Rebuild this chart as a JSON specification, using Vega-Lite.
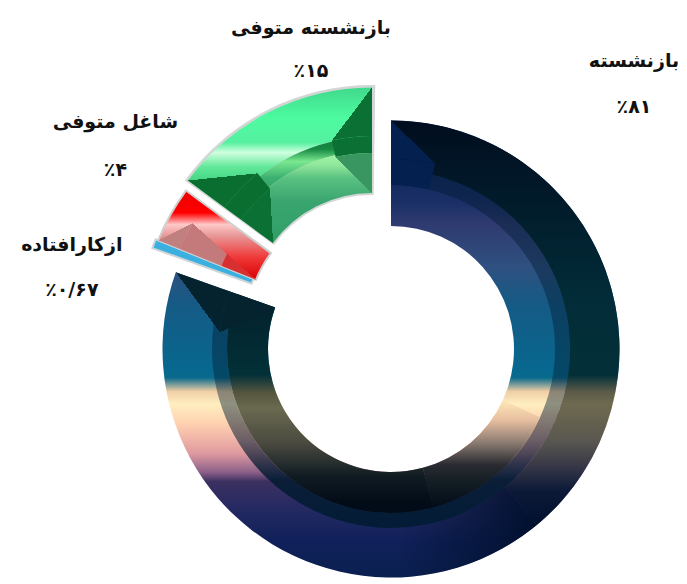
{"$schema":"https://vega.github.io/schema/vega-lite/v6.json","width":687,"height":584,"padding":0,"autosize":"none","background":"white","config":{"view":{"stroke":null},"axis":{"disable":true}},
"data":{"values":[{"order":1,"slice":"بازنشسته","pct":"٪۸۱","value":81},{"order":2,"slice":"ازکارافتاده","pct":"٪۰/۶۷","value":0.67},{"order":3,"slice":"شاغل متوفی","pct":"٪۴","value":4},{"order":4,"slice":"بازنشسته متوفی","pct":"٪۱۵","value":15}]},
"transform":[{"stack":"value","groupby":[],"sort":[{"field":"order","order":"ascending"}],"as":["start","end"]}],
"encoding":{"theta":{"field":"start","type":"quantitative","scale":{"domain":[0,100.67],"range":[0,6.28318]},"legend":null},"theta2":{"field":"end"}},
"layer":[
{"transform":[{"filter":"datum.order==1"}],"layer":[
{"mark":{"type":"arc","xOffset":47.5,"yOffset":57,"radius":228.5,"radius2":123,"fill":{"x1":0,"x2":0,"y1":0,"y2":1,"gradient":"linear","stops":[{"offset":0,"color":"#02204f"},{"offset":0.18,"color":"#1a2f66"},{"offset":0.225,"color":"#2f3a70"},{"offset":0.32,"color":"#2f5080"},{"offset":0.4,"color":"#155a85"},{"offset":0.55,"color":"#07688f"},{"offset":0.563,"color":"#0a6a8c"},{"offset":0.593,"color":"#f0cfa5"},{"offset":0.62,"color":"#ffeec0"},{"offset":0.664,"color":"#ffd0b0"},{"offset":0.728,"color":"#e09aa0"},{"offset":0.77,"color":"#8a5f88"},{"offset":0.79,"color":"#3c3060"},{"offset":0.846,"color":"#252a62"},{"offset":0.92,"color":"#10205a"},{"offset":1,"color":"#0a2050"}]}}},
{"encoding":{"theta2":{"field":"start"}},"mark":{"type":"arc","xOffset":47.5,"yOffset":57,"radius":228.5,"radius2":179,"theta2Offset":2.45,"fill":{"x1":0,"x2":0,"y1":0,"y2":1,"gradient":"linear","stops":[{"offset":0,"color":"#010d1f"},{"offset":0.44,"color":"#022c38"},{"offset":0.63,"color":"#033038"},{"offset":0.67,"color":"#5a5a48"},{"offset":0.7,"color":"#6e6a50"},{"offset":0.79,"color":"#5a5850"},{"offset":0.85,"color":"#3a3a48"},{"offset":0.915,"color":"#0c1a38"},{"offset":1,"color":"#00102e"}]}}},
{"encoding":{"theta2":{"field":"start"}},"mark":{"type":"arc","xOffset":47.5,"yOffset":57,"radius":228.5,"radius2":179,"thetaOffset":2.45,"theta2Offset":3.1,"fill":{"x1":1,"x2":0,"y1":0,"y2":0,"gradient":"linear","stops":[{"offset":0,"color":"rgba(0,16,46,1)"},{"offset":1,"color":"rgba(0,16,46,0)"}]}}},
{"mark":{"type":"arc","xOffset":47.5,"yOffset":57,"radius":179,"radius2":164,"fill":{"x1":0,"x2":0,"y1":0,"y2":1,"gradient":"linear","stops":[{"offset":0,"color":"rgba(0,26,48,0.42)"},{"offset":0.63,"color":"rgba(0,26,48,0.42)"},{"offset":0.755,"color":"rgba(0,26,48,0.55)"},{"offset":0.866,"color":"rgba(0,26,48,0.85)"},{"offset":1,"color":"rgba(0,26,48,0.85)"}]}}},
{"encoding":{"theta":{"field":"end","type":"quantitative"},"theta2":{"field":"end"}},"mark":{"type":"arc","xOffset":47.5,"yOffset":57,"radius":164,"radius2":123,"thetaOffset":-2.176,"fill":{"x1":0,"x2":0,"y1":0,"y2":1,"gradient":"linear","stops":[{"offset":0,"color":"#03202c"},{"offset":0.37,"color":"#033038"},{"offset":0.45,"color":"#55553f"},{"offset":0.52,"color":"#6a6a50"},{"offset":0.68,"color":"#4a4a40"},{"offset":0.83,"color":"#101c22"},{"offset":0.95,"color":"#020c18"},{"offset":1,"color":"#020c18"}]}}},
{"encoding":{"theta2":{"field":"start"}},"mark":{"type":"arc","xOffset":47.5,"yOffset":57,"radius":164,"radius2":123,"thetaOffset":2.0,"theta2Offset":2.88,"fill":{"x1":0,"x2":0,"y1":0,"y2":1,"gradient":"linear","stops":[{"offset":0,"color":"#ffe8b8"},{"offset":0.18,"color":"#e8c0a0"},{"offset":0.4,"color":"#8a7a70"},{"offset":0.6,"color":"#2a2c32"},{"offset":0.75,"color":"#141e24"},{"offset":1,"color":"#020c18"}]}}},
{"encoding":{"theta2":{"field":"start"}},"mark":{"type":"arc","xOffset":47.5,"yOffset":57,"radius":190,"radius2":164,"theta2Offset":0.234,"fill":"#04204f"}},
{"encoding":{"theta2":{"field":"start"}},"mark":{"type":"arc","xOffset":47.5,"yOffset":57,"radius":228.5,"radius2":190,"theta2Offset":0.24,"fill":{"x1":0.116,"y1":0.75,"x2":0.716,"y2":0.25,"gradient":"linear","stops":[{"offset":0,"color":"rgba(4,32,79,1)"},{"offset":0.5,"color":"rgba(4,32,79,1)"},{"offset":0.5,"color":"rgba(4,32,79,0)"},{"offset":1,"color":"rgba(4,32,79,0)"}]}}},
{"encoding":{"theta":{"field":"end","type":"quantitative"},"theta2":{"field":"end"}},"mark":{"type":"arc","xOffset":47.5,"yOffset":57,"radius":228.5,"radius2":172,"thetaOffset":-0.245,"fill":{"x1":0.823,"y1":0.298,"x2":0.223,"y2":0.702,"gradient":"linear","stops":[{"offset":0,"color":"rgba(5,34,47,1)"},{"offset":0.5,"color":"rgba(5,34,47,1)"},{"offset":0.5,"color":"rgba(5,34,47,0)"},{"offset":1,"color":"rgba(5,34,47,0)"}]}}},
{"encoding":{"theta":{"field":"end","type":"quantitative"},"theta2":{"field":"end"}},"mark":{"type":"arc","xOffset":47.5,"yOffset":57,"radius":172,"radius2":123,"thetaOffset":-0.245,"fill":{"x1":0.3655,"y1":0.378,"x2":0.6345,"y2":0.878,"gradient":"linear","stops":[{"offset":0,"color":"rgba(5,34,47,1)"},{"offset":0.5,"color":"rgba(5,34,47,1)"},{"offset":0.5,"color":"rgba(5,34,47,0)"},{"offset":1,"color":"rgba(5,34,47,0)"}]}}}
]},
{"transform":[{"filter":"datum.order==2"}],"mark":{"type":"arc","xOffset":24,"yOffset":33,"radius":228.5,"radius2":123,"fill":"#3ab0e0","stroke":"#cfd4d6","strokeWidth":2}},
{"transform":[{"filter":"datum.order==3"}],"layer":[
{"mark":{"type":"arc","xOffset":26.5,"yOffset":34,"radius":228.5,"radius2":123,"stroke":"#cfcfcf","strokeWidth":2,"fill":{"x1":0,"x2":0,"y1":0,"y2":1,"gradient":"linear","stops":[{"offset":0,"color":"#ee0000"},{"offset":0.25,"color":"#ff0000"},{"offset":0.38,"color":"#ffc8c8"},{"offset":0.5,"color":"#e89a9a"},{"offset":0.75,"color":"#f03838"},{"offset":1,"color":"#d80000"}]}}},
{"encoding":{"theta2":{"field":"start"}},"mark":{"type":"arc","xOffset":26.5,"yOffset":34,"radius":228.5,"radius2":205,"theta2Offset":0.14,"fill":{"x1":0.613,"y1":0.789,"x2":0.387,"y2":0.289,"gradient":"linear","stops":[{"offset":0,"color":"rgba(192,128,128,1)"},{"offset":0.5,"color":"rgba(192,128,128,1)"},{"offset":0.5,"color":"rgba(192,128,128,0)"},{"offset":1,"color":"rgba(192,128,128,0)"}]}}},
{"encoding":{"theta2":{"field":"start"}},"mark":{"type":"arc","xOffset":26.5,"yOffset":34,"radius":205,"radius2":160,"theta2Offset":0.14,"fill":{"x1":0.593,"y1":0.909,"x2":1.123,"y2":0.417,"gradient":"linear","stops":[{"offset":0,"color":"rgba(196,122,122,1)"},{"offset":0.5,"color":"rgba(196,122,122,1)"},{"offset":0.5,"color":"rgba(196,122,122,0)"},{"offset":1,"color":"rgba(196,122,122,0)"}]}}},
{"encoding":{"theta2":{"field":"start"}},"mark":{"type":"arc","xOffset":26.5,"yOffset":34,"radius":160,"radius2":123,"theta2Offset":0.14,"fill":{"x1":-0.188,"y1":0.395,"x2":0.312,"y2":-0.06,"gradient":"linear","stops":[{"offset":0,"color":"rgba(216,48,48,1)"},{"offset":0.5,"color":"rgba(216,48,48,1)"},{"offset":0.5,"color":"rgba(216,48,48,0)"},{"offset":1,"color":"rgba(216,48,48,0)"}]}}}
]},
{"transform":[{"filter":"datum.order==4"}],"layer":[
{"mark":{"type":"arc","xOffset":28.5,"yOffset":24,"radius":231,"radius2":121,"theta2Offset":0.014,"thetaOffset":-0.008,"fill":"#d2d6d4"}},
{"mark":{"type":"arc","xOffset":28.5,"yOffset":24,"radius":228.5,"radius2":179,"fill":{"x1":0,"x2":0,"y1":0,"y2":1,"gradient":"linear","stops":[{"offset":0,"color":"#40d98c"},{"offset":0.25,"color":"#4dfba0"},{"offset":0.45,"color":"#55f0a0"},{"offset":0.53,"color":"#d0ffe0"},{"offset":0.65,"color":"#60e898"},{"offset":0.8,"color":"#3cd080"},{"offset":1,"color":"#2cc070"}]}}},
{"mark":{"type":"arc","xOffset":28.5,"yOffset":24,"radius":179,"radius2":165,"fill":{"x1":0,"x2":0,"y1":0,"y2":1,"gradient":"linear","stops":[{"offset":0,"color":"#0f7a3a"},{"offset":0.15,"color":"#178a42"},{"offset":0.3,"color":"#7ae890"},{"offset":0.5,"color":"#3cb070"},{"offset":1,"color":"#209050"}]}}},
{"mark":{"type":"arc","xOffset":28.5,"yOffset":24,"radius":165,"radius2":123,"fill":{"x1":0,"x2":0,"y1":0,"y2":1,"gradient":"linear","stops":[{"offset":0,"color":"#a8f5a8"},{"offset":0.15,"color":"#90e89c"},{"offset":0.3,"color":"#58c080"},{"offset":0.55,"color":"#3aa56f"},{"offset":1,"color":"#2f9f66"}]}}},
{"encoding":{"theta2":{"field":"start"}},"mark":{"type":"arc","xOffset":28.5,"yOffset":24,"radius":228.5,"radius2":183,"theta2Offset":0.26,"fill":{"x1":0.531,"y1":0.861,"x2":0.469,"y2":0.261,"gradient":"linear","stops":[{"offset":0,"color":"rgba(10,110,48,1)"},{"offset":0.5,"color":"rgba(10,110,48,1)"},{"offset":0.5,"color":"rgba(10,110,48,0)"},{"offset":1,"color":"rgba(10,110,48,0)"}]}}},
{"encoding":{"theta2":{"field":"start"}},"mark":{"type":"arc","xOffset":28.5,"yOffset":24,"radius":183,"radius2":163,"theta2Offset":0.26,"fill":"#0a6e30"}},
{"encoding":{"theta2":{"field":"start"}},"mark":{"type":"arc","xOffset":28.5,"yOffset":24,"radius":163,"radius2":123,"theta2Offset":0.26,"fill":{"x1":0.267,"y1":0.517,"x2":0.867,"y2":0.483,"gradient":"linear","stops":[{"offset":0,"color":"rgba(10,112,51,1)"},{"offset":0.5,"color":"rgba(10,112,51,1)"},{"offset":0.5,"color":"rgba(10,112,51,0)"},{"offset":1,"color":"rgba(10,112,51,0)"}]}}},
{"encoding":{"theta":{"field":"end","type":"quantitative"},"theta2":{"field":"end"}},"mark":{"type":"arc","xOffset":28.5,"yOffset":24,"radius":228.5,"radius2":180,"thetaOffset":-0.225,"fill":{"x1":0.906,"y1":0.736,"x2":0.306,"y2":0.264,"gradient":"linear","stops":[{"offset":0,"color":"rgba(11,112,51,1)"},{"offset":0.5,"color":"rgba(11,112,51,1)"},{"offset":0.5,"color":"rgba(11,112,51,0)"},{"offset":1,"color":"rgba(11,112,51,0)"}]}}},
{"encoding":{"theta":{"field":"end","type":"quantitative"},"theta2":{"field":"end"}},"mark":{"type":"arc","xOffset":28.5,"yOffset":24,"radius":180,"radius2":163,"thetaOffset":-0.225,"fill":"#0b7033"}},
{"encoding":{"theta":{"field":"end","type":"quantitative"},"theta2":{"field":"end"}},"mark":{"type":"arc","xOffset":28.5,"yOffset":24,"radius":163,"radius2":123,"thetaOffset":-0.225,"fill":{"x1":0.708,"y1":0.262,"x2":0.292,"y2":0.762,"gradient":"linear","stops":[{"offset":0,"color":"rgba(58,150,96,1)"},{"offset":0.5,"color":"rgba(58,150,96,1)"},{"offset":0.5,"color":"rgba(58,150,96,0)"},{"offset":1,"color":"rgba(58,150,96,0)"}]}}}
]},
{"transform":[{"filter":"datum.order==1"}],"encoding":{"text":{"field":"slice"},"theta2":null},"mark":{"type":"text","radius":288,"dx":243,"xOffset":47.5,"yOffset":57,"font":"DejaVu Sans","fontWeight":"bold","fontSize":19,"fill":"#111"}},
{"transform":[{"filter":"datum.order==1"}],"encoding":{"text":{"field":"pct"},"theta2":null},"mark":{"type":"text","radius":242,"dx":243,"xOffset":47.5,"yOffset":57,"font":"DejaVu Sans","fontWeight":"bold","fontSize":19,"fill":"#111"}},
{"transform":[{"filter":"datum.order==4"}],"encoding":{"text":{"field":"slice"},"theta":{"field":"end","type":"quantitative"},"theta2":null},"mark":{"type":"text","radius":321,"dx":-80,"xOffset":47.5,"yOffset":57,"font":"DejaVu Sans","fontWeight":"bold","fontSize":19,"fill":"#111"}},
{"transform":[{"filter":"datum.order==4"}],"encoding":{"text":{"field":"pct"},"theta":{"field":"end","type":"quantitative"},"theta2":null},"mark":{"type":"text","radius":278,"dx":-80,"xOffset":47.5,"yOffset":57,"font":"DejaVu Sans","fontWeight":"bold","fontSize":19,"fill":"#111"}},
{"transform":[{"filter":"datum.order==3"}],"encoding":{"text":{"field":"slice"},"theta":{"field":"end","type":"quantitative"},"theta2":null},"mark":{"type":"text","radius":300,"dx":-34,"dy":-49,"xOffset":47.5,"yOffset":57,"font":"DejaVu Sans","fontWeight":"bold","fontSize":19,"fill":"#111"}},
{"transform":[{"filter":"datum.order==3"}],"encoding":{"text":{"field":"pct"},"theta":{"field":"end","type":"quantitative"},"theta2":null},"mark":{"type":"text","radius":300,"dx":-34,"dy":-1,"xOffset":47.5,"yOffset":57,"font":"DejaVu Sans","fontWeight":"bold","fontSize":19,"fill":"#111"}},
{"transform":[{"filter":"datum.order==2"}],"encoding":{"text":{"field":"slice"},"theta2":null},"mark":{"type":"text","radius":340,"dx":1,"dy":10,"xOffset":47.5,"yOffset":57,"font":"DejaVu Sans","fontWeight":"bold","fontSize":19,"fill":"#111"}},
{"transform":[{"filter":"datum.order==2"}],"encoding":{"text":{"field":"pct"},"theta2":null},"mark":{"type":"text","radius":340,"dx":1,"dy":55,"xOffset":47.5,"yOffset":57,"font":"DejaVu Sans","fontWeight":"bold","fontSize":19,"fill":"#111"}}
]}
